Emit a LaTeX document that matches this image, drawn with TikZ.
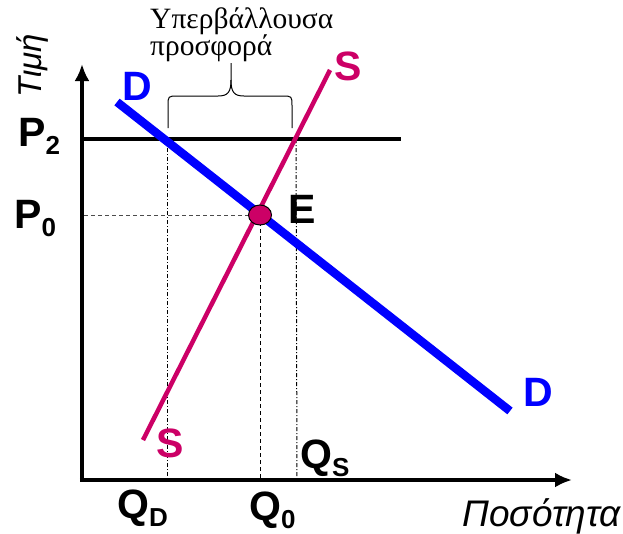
\documentclass[tikz,border=0pt]{standalone}
\usepackage{fontspec}
\setmainfont{Liberation Serif}
\setsansfont{Liberation Sans}
\usetikzlibrary{arrows.meta,shapes.geometric}
\definecolor{scol}{RGB}{204,0,102}
\definecolor{dcol}{RGB}{0,0,255}
\newcommand{\sub}[1]{{\fontsize{26}{26}\selectfont\raisebox{-8pt}{#1}}}
\tikzset{
  lbl/.style={font=\sffamily\bfseries\fontsize{41}{41}\selectfont, inner sep=0pt},
  axis/.style={line width=4.5pt, -{Latex[length=17pt,width=15pt]}},
  guide/.style={line width=1pt, dash pattern=on 4pt off 2pt on 1pt off 2pt},
  guided/.style={line width=1pt, dash pattern=on 4pt off 3pt},
}
\begin{document}
\begin{tikzpicture}[x=1pt,y=-1pt]
\useasboundingbox (0,0) rectangle (623,533);
% axes
\coordinate (O) at (82,480);
\coordinate (Ytip) at (82,64);
\coordinate (Xtip) at (572,480);
\draw[axis] (O) -- (Ytip);
\draw[axis] ([xshift=-2.2pt]O) -- (Xtip);
% key points
\coordinate (P2l) at (82,139);
\coordinate (P2r) at (401,139);
\coordinate (A) at (167,139);
\coordinate (B) at (296,139);
\coordinate (Ap) at (167,478);
\coordinate (Bp) at (297,478);
\coordinate (P0l) at (84,215);
\coordinate (Q0b) at (260,478);
% guides
\draw[guided, black!70] (P0l) -- (260,215);
\draw[guide] (A) -- (Ap);
\draw[guide] (B) -- (Bp);
\draw[guided] (260,215) -- (Q0b);
% P2 line
\draw[line width=4.5pt] (P2l) -- (P2r);
% D and S
\coordinate (D1) at (117,102);
\coordinate (D2) at (510,411);
\coordinate (S1) at (143,440);
\coordinate (S2) at (330,70);
\draw[dcol, line width=8.5pt] (D1) -- (D2);
\draw[scol, line width=4.5pt] (S1) -- (S2);
% equilibrium
\node[ellipse, draw=black, line width=1pt, fill=scol, minimum width=23pt, minimum height=20pt, inner sep=0pt] (Ept) at (260,215) {};
% brace
\draw[line width=1pt] (168,128) -- (168,106) .. controls (168,96) .. (178,96) -- (218,96) .. controls (228,96) and (231,92) .. (231,80) -- (231,63);
\draw[line width=1pt] (292,128) -- (292,106) .. controls (292,96) .. (282,96) -- (244,96) .. controls (234,96) and (231,92) .. (231,80);
% texts
\node[font=\fontsize{29.5}{29.5}\selectfont, anchor=base west, inner sep=0pt] (t1) at (150,28) {Υπερβάλλουσα};
\node[font=\fontsize{29.5}{29.5}\selectfont, anchor=base west, inner sep=0pt] (t2) at (150,55) {προσφορά};
\node[font=\sffamily\itshape\fontsize{33}{33}\selectfont, rotate=90, inner sep=0pt] (ylab) at (32,66) {Τιμή};
\node[font=\sffamily\itshape\fontsize{37}{37}\selectfont, anchor=east, inner sep=0pt] (xlab) at (621,516) {Ποσότητα};
\node[lbl, anchor=west] (p2) at (18,136) {P\sub{2}};
\node[lbl, anchor=west] (p0) at (14,219) {P\sub{0}};
\node[lbl] (e) at (302,209) {E};
\node[lbl, text=dcol] (dtop) at (137,86) {D};
\node[lbl, text=dcol] (dbot) at (538,392) {D};
\node[lbl, text=scol] (stop) at (348,66) {S};
\node[lbl, text=scol] (sbot) at (170,443) {S};
\node[lbl, anchor=west] (qs) at (300,458) {Q\sub{S}};
\node[lbl, anchor=west] (qd) at (117,508) {Q\sub{D}};
\node[lbl, anchor=west] (q0) at (249,510) {Q\sub{0}};
\end{tikzpicture}
\end{document}
